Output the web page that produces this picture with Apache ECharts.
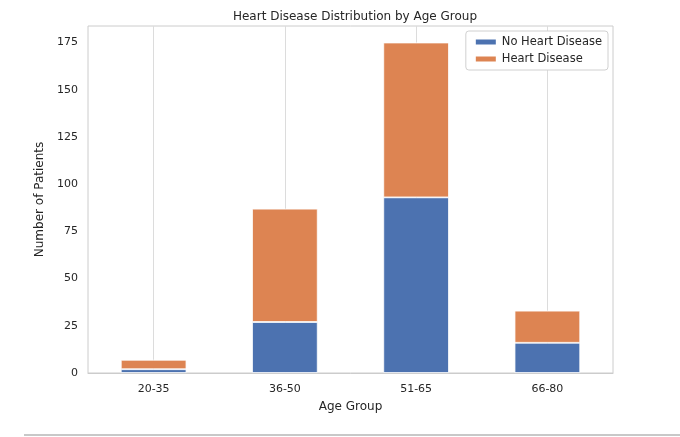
<!DOCTYPE html>
<html>
<head>
<meta charset="utf-8">
<script src="https://cdn.jsdelivr.net/npm/echarts@6/dist/echarts.min.js"></script>
<style>
  html, body { margin: 0; padding: 0; background: #fff; }
  #chart { width: 680px; height: 437px; }
</style>
</head>
<body>
<div id="chart"></div>
<script>
const ageGroups = ["20-35", "36-50", "51-65", "66-80"];
const noHeartDisease = [2, 27, 93, 16];
const heartDisease = [5, 60, 82, 17];
const yTicks = [0, 25, 50, 75, 100, 125, 150, 175];

const font = "DejaVu Sans";
const blue = "#4c72b0";
const orange = "#dd8452";

const chart = echarts.init(document.getElementById("chart"), null, { renderer: "canvas" });

const option = {
  animation: false,
  textStyle: { fontFamily: font },
  title: {
    text: "Heart Disease Distribution by Age Group",
    left: 350,
    textAlign: "center",
    top: 6,
    textStyle: { fontFamily: font, fontSize: 12, fontWeight: "normal", color: "#262626" },
  },
  legend: {
    data: ["No Heart Disease", "Heart Disease"],
    orient: "vertical",
    right: 72,
    top: 31,
    itemWidth: 22,
    itemHeight: 7,
    itemGap: 5,
    padding: [5, 6, 5, 8],
    borderColor: "#d0d0d0",
    borderWidth: 1,
    borderRadius: 3,
    backgroundColor: "#fff",
    icon: "rect",
    textStyle: { fontFamily: font, fontSize: 11.5, color: "#262626" },
  },
  grid: {
    left: 88,
    right: 67,
    top: 26,
    bottom: 64,
    show: true,
    borderColor: "#cccccc",
    borderWidth: 1,
  },
  xAxis: {
    type: "category",
    data: ageGroups,
    name: "Age Group",
    nameLocation: "middle",
    nameGap: 28,
    nameTextStyle: { fontFamily: font, fontSize: 12, color: "#262626" },
    axisLine: { lineStyle: { color: "#cccccc" } },
    axisTick: { show: false, alignWithLabel: true },
    axisLabel: { fontFamily: font, fontSize: 11, color: "#262626", margin: 11 },
    splitLine: { show: true, alignWithLabel: true, lineStyle: { color: "#dcdcdc", width: 1 } },
  },
  yAxis: {
    type: "value",
    min: 0,
    max: 183.75,
    interval: 25,
    name: "Number of Patients",
    nameLocation: "middle",
    nameGap: 30,
    nameTextStyle: { fontFamily: font, fontSize: 12, color: "#262626" },
    axisLine: { show: false },
    axisTick: { show: false },
    axisLabel: {
      fontFamily: font,
      fontSize: 11,
      color: "#262626",
      margin: 10,
      formatter: function (v) { return yTicks.indexOf(v) >= 0 ? String(v) : ""; },
    },
    splitLine: { show: false },
  },
  series: [
    {
      name: "No Heart Disease",
      type: "bar",
      stack: "total",
      barWidth: "50%",
      data: noHeartDisease,
      itemStyle: { color: blue, borderColor: "#fff", borderWidth: 0.8 },
    },
    {
      name: "Heart Disease",
      type: "bar",
      stack: "total",
      barWidth: "50%",
      data: heartDisease,
      itemStyle: { color: orange, borderColor: "#fff", borderWidth: 0.8 },
    },
  ],
  graphic: [
    {
      type: "line",
      shape: { x1: 24, y1: 435, x2: 680, y2: 435 },
      style: { stroke: "#c8c8c8", lineWidth: 2 },
    },
  ],
};

chart.setOption(option);
</script>
</body>
</html>
